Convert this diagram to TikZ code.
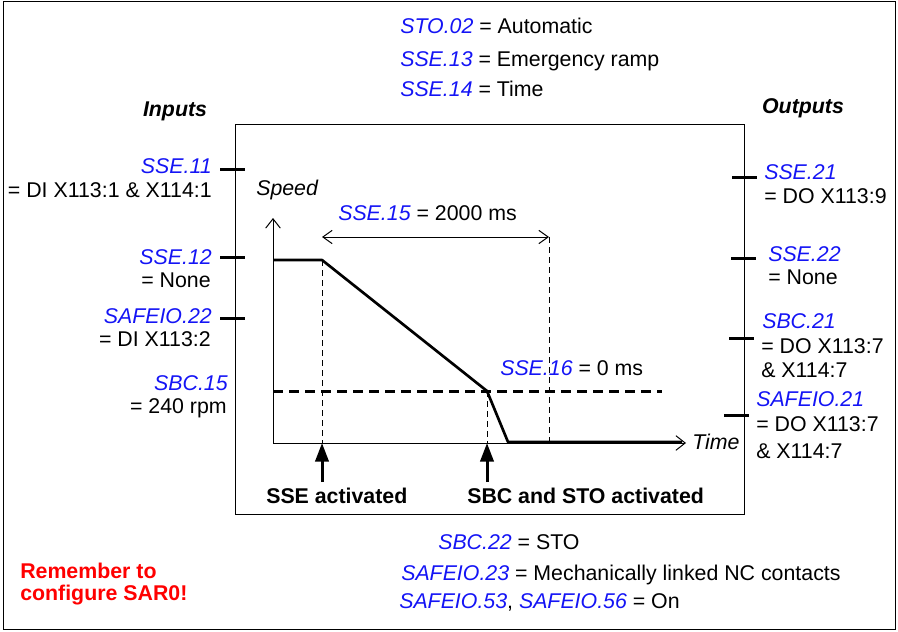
\documentclass[tikz,border=0pt]{standalone}
\usepackage{fontspec}
\setmainfont{Liberation Sans}
\usepackage{xcolor}
\usetikzlibrary{arrows.meta, positioning}
\definecolor{parblue}{RGB}{20, 20, 245}
\definecolor{warnred}{RGB}{255, 0, 0}
\newcommand{\prm}[1]{\textcolor{parblue}{\textit{#1}}}
\newcommand{\lblsize}{\fontsize{16}{19}\selectfont}

\begin{document}
\begin{tikzpicture}[
        x=0.75pt, y=-0.75pt,
        txt/.style={inner sep=0pt, font=\lblsize},
        head/.style={txt, font=\lblsize\bfseries\itshape},
        evtlabel/.style={txt, font=\lblsize\bfseries},
        tickline/.style={line width=2.25pt},
        axis/.style={line width=0.75pt, -{Straight Barb[length=7pt,width=11pt]}},
        dimline/.style={line width=0.75pt, {Straight Barb[length=7pt,width=10pt]}-{Straight Barb[length=7pt,width=10pt]}},
        guide/.style={line width=0.75pt, dash pattern=on 4.5pt off 3pt},
        limitline/.style={line width=2.25pt, dash pattern=on 7.5pt off 4.5pt},
        curve/.style={line width=2pt, line join=round},
        evtarrow/.style={line width=2.25pt, -{Triangle[length=14pt,width=10pt]}}
      ]
        \useasboundingbox (0,0) rectangle (898,631);
        \draw[line width=0.75pt] (3,2) rectangle (895,629);
        % chart frame
        \draw[line width=0.75pt] (235,125) rectangle (744,514);

        % top settings
        \node[txt, anchor=base west] (sto02) at (400,34) {\prm{STO.02} = Automatic};
        \node[txt, anchor=base west] (sse13) at (400,67) {\prm{SSE.13} = Emergency ramp};
        \node[txt, anchor=base west] (sse14) at (400,97) {\prm{SSE.14} = Time};

        % inputs
        \node[head, anchor=base] (inputs) at (175,117) {Inputs};
        \node[txt, anchor=base east] (sse11) at (212,173) {\prm{SSE.11}};
        \node[txt, anchor=base east] (sse11v) at (212,197) {= DI X113:1 \& X114:1};
        \node[txt, anchor=base east] (sse12) at (212,264) {\prm{SSE.12}};
        \node[txt, anchor=base east] (sse12v) at (211,287) {= None};
        \node[txt, anchor=base east] (safeio22) at (212,323) {\prm{SAFEIO.22}};
        \node[txt, anchor=base east] (safeio22v) at (211,346) {= DI X113:2};
        \node[txt, anchor=base east] (sbc15) at (228,390) {\prm{SBC.15}};
        \node[txt, anchor=base east] (sbc15v) at (227,413) {= 240 rpm};

        \coordinate (in1a) at (220,169); \coordinate (in1b) at (245,169);
        \coordinate (in2a) at (220,257); \coordinate (in2b) at (245,257);
        \coordinate (in3a) at (220,318); \coordinate (in3b) at (245,318);
        \draw[tickline] (in1a) -- (in1b);
        \draw[tickline] (in2a) -- (in2b);
        \draw[tickline] (in3a) -- (in3b);

        % outputs
        \node[head, anchor=base] (outputs) at (803,114) {Outputs};
        \node[txt, anchor=base west] (sse21) at (764,179) {\prm{SSE.21}};
        \node[txt, anchor=base west] (sse21v) at (764,203) {= DO X113:9};
        \node[txt, anchor=base west] (sse22) at (768,261) {\prm{SSE.22}};
        \node[txt, anchor=base west] (sse22v) at (768,284) {= None};
        \node[txt, anchor=base west] (sbc21) at (762,328) {\prm{SBC.21}};
        \node[txt, anchor=base west] (sbc21v) at (761,353) {= DO X113:7};
        \node[txt, anchor=base west] (sbc21w) at (761,377) {\& X114:7};
        \node[txt, anchor=base west] (safeio21) at (756,406) {\prm{SAFEIO.21}};
        \node[txt, anchor=base west] (safeio21v) at (756,431) {= DO X113:7};
        \node[txt, anchor=base west] (safeio21w) at (756,458) {\& X114:7};

        \coordinate (out1a) at (732,177); \coordinate (out1b) at (757,177);
        \coordinate (out2a) at (731,258); \coordinate (out2b) at (756,258);
        \coordinate (out3a) at (729,338); \coordinate (out3b) at (754,338);
        \coordinate (out4a) at (724,415); \coordinate (out4b) at (749,415);
        \draw[tickline] (out1a) -- (out1b);
        \draw[tickline] (out2a) -- (out2b);
        \draw[tickline] (out3a) -- (out3b);
        \draw[tickline] (out4a) -- (out4b);

        % axes
        \coordinate (origin) at (273,443);
        \coordinate (ytop) at (273,218);
        \coordinate (xend) at (686,443);
        \draw[axis] (origin) -- (ytop);
        \draw[axis] (origin) -- (xend);
        \node[txt, anchor=base west, font=\lblsize\itshape] (speed) at (256,195) {Speed};
        \node[txt, anchor=base west, font=\lblsize\itshape] (time) at (692,449) {Time};

        % speed profile
        \coordinate (v0) at (273,260);
        \coordinate (v1) at (322,260);
        \coordinate (v2) at (487,391);
        \coordinate (v3) at (508,442);
        \coordinate (v4) at (682,442);
        \draw[curve] (v0) -- (v1) -- (v2) -- (v3) -- (v4);

        % limit and guides
        \coordinate (lim0) at (273,391);
        \coordinate (lim1) at (662,391);
        \draw[limitline] (lim0) -- (lim1);
        \coordinate (g1b) at (322,443);
        \coordinate (g2t) at (549,237);
        \coordinate (g2b) at (549,443);
        \coordinate (g3b) at (487,443);
        \coordinate (d1) at (322,237);
        \draw[guide] (v1) -- (g1b);
        \draw[guide] (g2t) -- (g2b);
        \draw[guide] (v2) -- (g3b);
        \draw[dimline] (d1) -- (g2t);
        \node[txt, anchor=base west] (sse15) at (338,220) {\prm{SSE.15} = 2000 ms};
        \node[txt, anchor=base west] (sse16) at (500,375) {\prm{SSE.16} = 0 ms};

        % events
        \coordinate (e1) at (322,482);
        \coordinate (e2) at (487,482);
        \draw[evtarrow] (e1) -- (g1b);
        \draw[evtarrow] (e2) -- (g3b);
        \node[evtlabel, anchor=base west] (sseact) at (266,503) {SSE activated};
        \node[evtlabel, anchor=base west] (sbcact) at (467,503) {SBC and STO activated};

        % bottom settings
        \node[txt, anchor=base west] (sbc22) at (438,549) {\prm{SBC.22} = STO};
        \node[txt, anchor=base west] (safeio23) at (401,580) {\prm{SAFEIO.23} = Mechanically linked NC contacts};
        \node[txt, anchor=base west] (safeio53) at (399,608) {\prm{SAFEIO.53}, \prm{SAFEIO.56} = On};
        \node[evtlabel, anchor=base west, text=warnred] (remind1) at (20,578) {Remember to};
        \node[evtlabel, anchor=base west, text=warnred] (remind2) at (20,600) {configure SAR0!};
      \end{tikzpicture}
\end{document}
